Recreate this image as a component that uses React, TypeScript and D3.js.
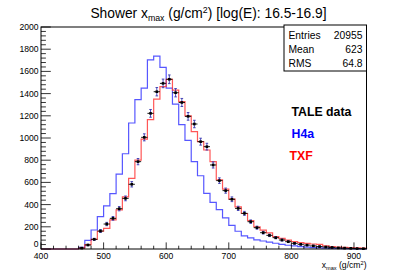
import {line, range, scaleLinear} from "d3";

// counts per 10 g/cm^2 bin, first bin starts at 460
const BIN_LOW = 460;
const BIN_WIDTH = 10;

const TALE_DATA = [
  8, 36, 87, 162, 225, 276, 363, 456, 583, 787,
  1006, 1222, 1417, 1492, 1529, 1408, 1320, 1195, 1126, 967,
  922, 757, 616, 526, 448, 366, 321, 246, 192, 147,
  123, 102, 81, 66, 51, 42, 35, 28, 22, 18,
  14, 10, 8, 6, 4, 3
];

const H4A = [
  15, 78, 171, 291, 388, 498, 675, 858, 1135, 1345,
  1450, 1703, 1738, 1637, 1450, 1306, 1120, 978, 787, 660,
  502, 420, 354, 280, 212, 160, 118, 100, 82, 72,
  62, 52, 42, 34, 28, 22, 17, 13, 10, 8,
  6, 5, 4, 3, 2, 2
];

const TXF = [
  8, 40, 87, 160, 185, 262, 352, 470, 637, 800,
  990, 1165, 1350, 1462, 1529, 1432, 1327, 1200, 1057, 967,
  892, 787, 622, 540, 450, 380, 320, 255, 200, 170,
  145, 112, 95, 80, 66, 58, 50, 45, 42, 28,
  22, 18, 14, 12, 10, 8
];

const X_DOMAIN = [400, 920];
const Y_DOMAIN = [0, 2000];
const X_TICKS = [400, 500, 600, 700, 800, 900];
const Y_TICKS = [0, 200, 400, 600, 800, 1000, 1200, 1400, 1600, 1800, 2000];

const STATS = [
  ["Entries", "20955"],
  ["Mean", "623"],
  ["RMS", "64.8"]
];

const LEGEND = [
  {label: "TALE data", color: "#000000"},
  {label: "H4a", color: "#0000ff"},
  {label: "TXF", color: "#ff0000"}
];

const FONT = "'Liberation Sans', Arial, Helvetica, sans-serif";

export default function App() {
  const width = 407;
  const height = 277;
  const frame = {left: 41, right: 366.5, top: 27, bottom: 249};

  const x = scaleLinear().domain(X_DOMAIN).range([frame.left, frame.right]);
  const y = scaleLinear().domain(Y_DOMAIN).range([frame.bottom, frame.top]);

  const stepLine = line<[number, number]>()
    .x((d) => x(d[0]))
    .y((d) => y(d[1]));

  const stepPoints = (values: number[]): [number, number][] => {
    const pts: [number, number][] = [[X_DOMAIN[0], 0], [BIN_LOW, 0]];
    values.forEach((v, i) => {
      const x0 = BIN_LOW + i * BIN_WIDTH;
      pts.push([x0, v], [x0 + BIN_WIDTH, v]);
    });
    const end = BIN_LOW + values.length * BIN_WIDTH;
    pts.push([end, 0], [X_DOMAIN[1], 0]);
    return pts;
  };

  const xMinor = range(X_DOMAIN[0], X_DOMAIN[1] + 1, 20);
  const yMinor = range(Y_DOMAIN[0], Y_DOMAIN[1] + 1, 40);

  return (
    <svg
      width={width}
      height={height}
      style={{position: "absolute", left: 0, top: 0, background: "#fff"}}
      fontFamily={FONT}
    >
      <rect width={width} height={height} fill="#fff" />

      <text x={width / 2 + 5} y={18} textAnchor="middle" fontSize={13.8} fill="#000">
        Shower x<tspan fontSize={8.8} dy={3}>max</tspan>
        <tspan dy={-3}> (g/cm</tspan>
        <tspan fontSize={8.8} dy={-5}>2</tspan>
        <tspan dy={5}>) [log(E): 16.5-16.9]</tspan>
      </text>

      <path d={stepLine(stepPoints(H4A)) ?? ""} fill="none" stroke="#3a3aff" strokeOpacity={0.85} strokeWidth={1.2} />
      <path d={stepLine(stepPoints(TXF)) ?? ""} fill="none" stroke="#ff3a3a" strokeOpacity={0.85} strokeWidth={1.2} />

      {TALE_DATA.map((v, i) => {
        const cx = x(BIN_LOW + (i + 0.5) * BIN_WIDTH);
        const err = Math.sqrt(v);
        const yTop = y(v + err);
        const yBot = y(v - err);
        const cy = y(v);
        const half = (x(BIN_WIDTH) - x(0)) / 2;
        return (
          <g key={`pt-${i}`}>
            <line x1={cx} x2={cx} y1={yTop} y2={yBot} stroke="#3535b0" strokeWidth={0.9} />
            <line x1={cx - 1.3} x2={cx + 1.3} y1={yTop} y2={yTop} stroke="#3535b0" strokeWidth={0.9} />
            <line x1={cx - 1.3} x2={cx + 1.3} y1={yBot} y2={yBot} stroke="#3535b0" strokeWidth={0.9} />
            <line x1={cx - half} x2={cx + half} y1={cy} y2={cy} stroke="#000" strokeWidth={0.9} />
            <rect x={cx - 1.3} y={cy - 1.3} width={2.6} height={2.6} fill="#000" />
          </g>
        );
      })}

      {/* frame */}
      <rect
        x={frame.left}
        y={frame.top}
        width={frame.right - frame.left}
        height={frame.bottom - frame.top}
        fill="none"
        stroke="#000"
        strokeWidth={1}
      />

      {/* y axis ticks */}
      {yMinor.map((t) => (
        <line key={`ym-${t}`} x1={frame.left} x2={frame.left + (t % 200 === 0 ? 9.8 : 4.9)} y1={y(t)} y2={y(t)} stroke="#000" strokeWidth={0.8} />
      ))}
      {Y_TICKS.map((t) => (
        <text key={`yl-${t}`} x={frame.left - 2.5} y={t === 0 ? y(t) - 2 : y(t) + 3} textAnchor="end" fontSize={8.6} fill="#000">
          {t}
        </text>
      ))}

      {/* x axis ticks */}
      {xMinor.map((t) => (
        <line key={`xm-${t}`} x1={x(t)} x2={x(t)} y1={frame.bottom} y2={frame.bottom - (t % 100 === 0 ? 6.6 : 3.3)} stroke="#000" strokeWidth={0.8} />
      ))}
      {X_TICKS.map((t) => (
        <text key={`xl-${t}`} x={x(t)} y={frame.bottom + 10} textAnchor="middle" fontSize={8.6} fill="#000">
          {t}
        </text>
      ))}

      <text x={frame.right} y={268} textAnchor="end" fontSize={8.6} fill="#000">
        x<tspan fontSize={5.6} dy={2}>max</tspan>
        <tspan dy={-2}> (g/cm</tspan>
        <tspan fontSize={5.6} dy={-3.5}>2</tspan>
        <tspan dy={3.5}>)</tspan>
      </text>

      {/* stats box */}
      <rect x={284} y={25} width={frame.right - 284} height={46} fill="#fff" stroke="#000" strokeWidth={1} />
      {STATS.map(([label, value], i) => (
        <g key={label}>
          <text x={288.5} y={38.5 + i * 14} fontSize={10.3} fill="#000">
            {label}
          </text>
          <text x={362.5} y={38.5 + i * 14} textAnchor="end" fontSize={10.3} fill="#000">
            {value}
          </text>
        </g>
      ))}

      {LEGEND.map((d, i) => (
        <text key={d.label} x={i === 2 ? 289.5 : 291.5} y={116 + i * 22} fontSize={12.3} fontWeight="bold" fill={d.color}>
          {d.label}
        </text>
      ))}
    </svg>
  );
}
